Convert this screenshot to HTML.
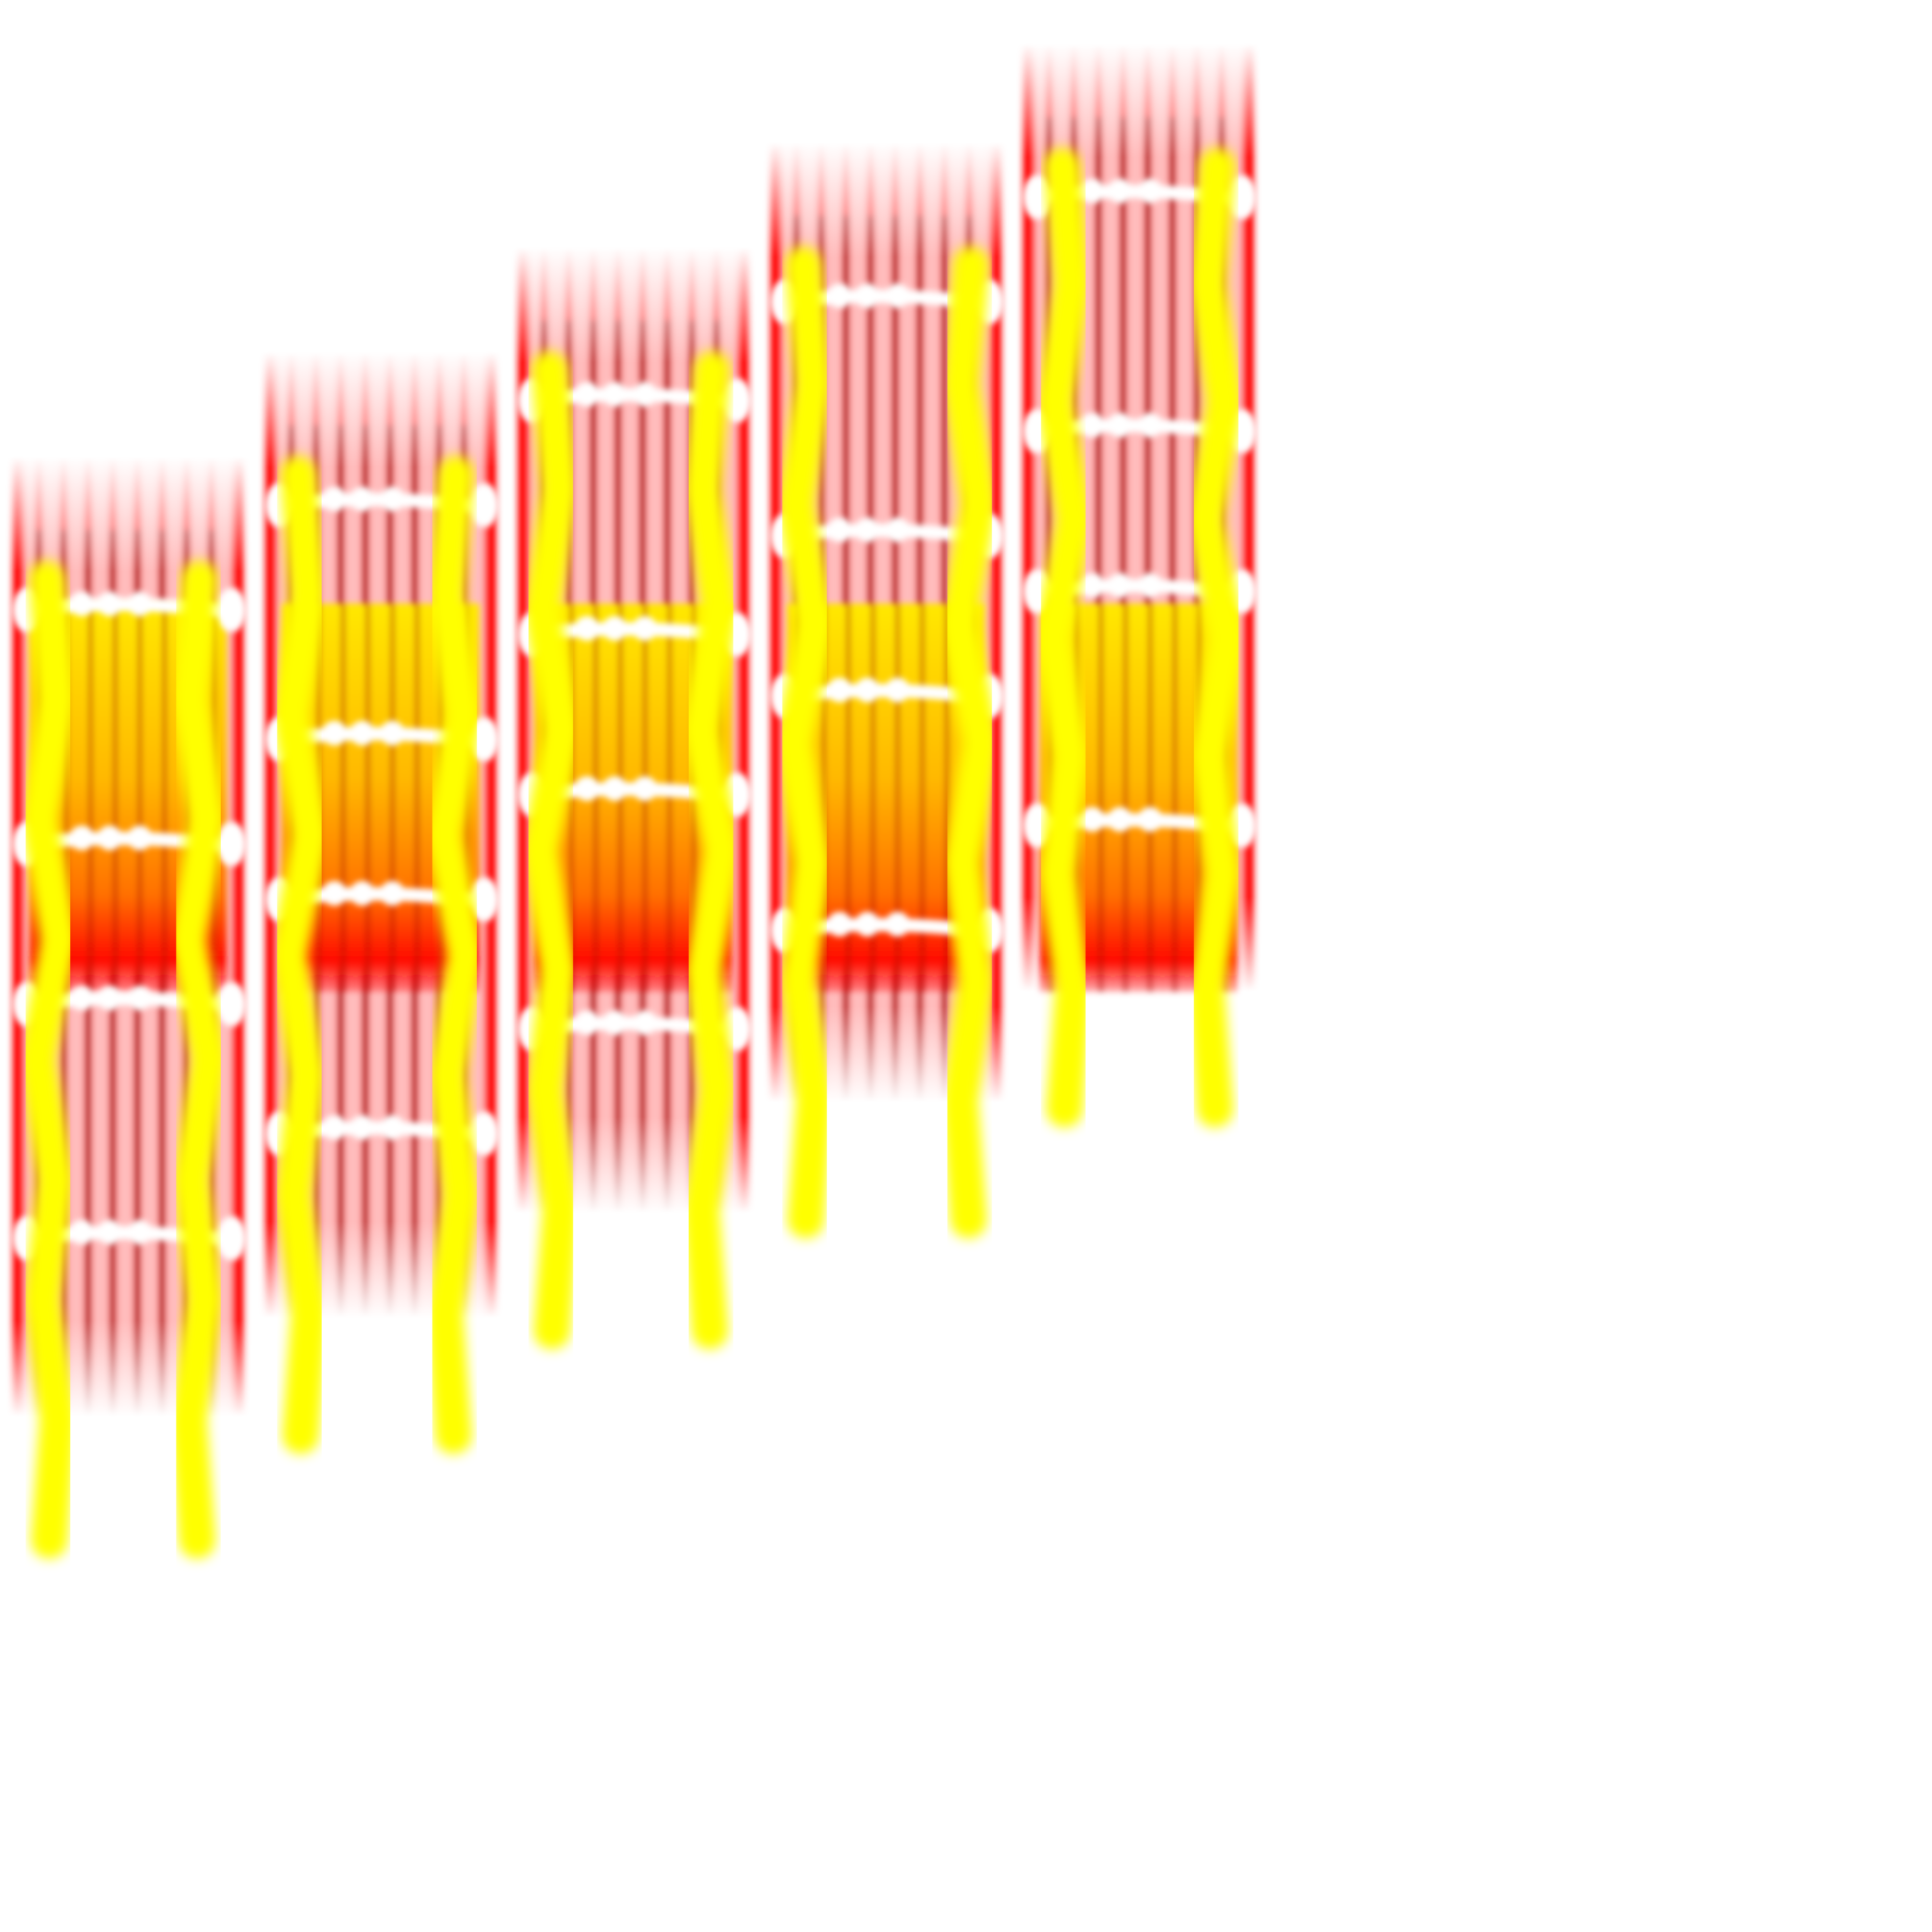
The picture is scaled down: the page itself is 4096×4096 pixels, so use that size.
<!DOCTYPE html>
<html><head><meta charset="utf-8"><style>
html,body{margin:0;padding:0;background:#fff;width:4096px;height:4096px;overflow:hidden}
svg{display:block}
</style></head><body>
<svg id="chart" width="4096" height="4096" viewBox="0 0 1568 1568" xmlns="http://www.w3.org/2000/svg">
<defs>
<filter id="b2" x="-20%" y="-20%" width="140%" height="140%"><feGaussianBlur stdDeviation="2.5"/></filter>
<filter id="b4" x="-50%" y="-20%" width="200%" height="140%"><feGaussianBlur stdDeviation="5"/></filter>
<linearGradient id="band" x1="0" y1="0" x2="0" y2="1">
<stop offset="0" stop-color="#ffe800"/><stop offset="0.45" stop-color="#ffb800"/><stop offset="0.75" stop-color="#ff7000"/><stop offset="0.92" stop-color="#ff0a00"/><stop offset="1" stop-color="#ff0a00" stop-opacity="0.3"/>
</linearGradient>
<linearGradient id="fadeTop" x1="0" y1="0" x2="0" y2="1">
<stop offset="0" stop-color="#fff" stop-opacity="0"/><stop offset="0.12" stop-color="#fff" stop-opacity="1"/><stop offset="0.9" stop-color="#fff" stop-opacity="1"/><stop offset="1" stop-color="#fff" stop-opacity="0"/>
</linearGradient>
</defs>
<g id="layer"></g>
</svg>
<script>
const ladderX = [10, 215, 420, 625, 830];
const ladderTop = [370, 285, 200, 115, 35];
const streakBottom = [1150, 1070, 985, 895, 805];
const firstRung = [495, 410, 325, 245, 160];
const rungGaps = [0, 190, 320, 510];
const railLeft = [38, 242, 446, 652, 862];
const railRight = [162, 370, 578, 788, 988];
const railBottom = [1250, 1165, 1080, 990, 900];
const wobble = [0, 8, -6, 10, -8, 7, -4, 9, -6];
const bandTop = 490, bandBottom = 805, ladderW = 188;

const NS = 'http://www.w3.org/2000/svg';
const layer = document.getElementById('layer');
function mk(tag, attrs, parent){ const e=document.createElementNS(NS,tag); for(const k in attrs) e.setAttribute(k,attrs[k]); (parent||layer).appendChild(e); return e; }

ladderX.forEach((x0, i) => {
  const g = mk('g', {});
  
  
  const top = ladderTop[i], bot = streakBottom[i];
  const mid = mk('mask', {id:'m'+i, maskUnits:'userSpaceOnUse', x:x0-20, y:top, width:ladderW+40, height:bot-top}, g);
  mk('rect', {x:x0-20, y:top, width:ladderW+40, height:bot-top, fill:'url(#fadeTop)'}, mid);
  const bg = mk('g', {mask:'url(#m'+i+')', filter:'url(#b2)'}, g);
  mk('rect', {x:x0, y:top, width:ladderW, height:bot-top, fill:'#ffbcbc'}, bg);
  mk('rect', {x:x0, y:top, width:10, height:bot-top, fill:'#ff1010'}, bg);
  mk('rect', {x:x0+ladderW-10, y:top, width:10, height:bot-top, fill:'#ff1010'}, bg);
  for (let s = 18; s < ladderW-10; s += 20) {
    mk('rect', {x:x0+s, y:top, width:7, height:bot-top, fill:'#ff2020', opacity:0.7}, bg);
    mk('rect', {x:x0+s+2, y:top+60, width:3, height:bot-top-60, fill:'#6a0000', opacity:0.9}, bg);
  }
  const band = mk('g', {filter:'url(#b2)'}, g);
  const bb = Math.min(bandBottom, bot+5);
  mk('rect', {x:x0+14, y:bandTop, width:ladderW-28, height:bb-bandTop, fill:'url(#band)'}, band);
  for (let s = 20; s < ladderW-16; s += 20) {
    mk('rect', {x:x0+s+2, y:bandTop, width:3, height:bb-bandTop, fill:'#a00000', opacity:0.55}, band);
  }
  rungGaps.forEach((gp, r) => {
    const y = firstRung[i] + gp;
    const rg = mk('g', {filter:'url(#b2)'}, g);
    
    
    mk('path', {d:`M${x0+8} ${y} Q ${x0+ladderW/2} ${y-10} ${x0+ladderW-8} ${y+2}`, stroke:'#fff', 'stroke-width':11, fill:'none', 'stroke-linecap':'round'}, rg);
    mk('ellipse', {cx:x0+12, cy:y, rx:12, ry:18, fill:'#fff'}, rg);
    mk('ellipse', {cx:x0+ladderW-10, cy:y, rx:12, ry:18, fill:'#fff'}, rg);
    [0.3,0.42,0.55].forEach(f => mk('ellipse', {cx:x0+ladderW*f, cy:y-5, rx:10, ry:10, fill:'#fff'}, rg));
  });
  [railLeft[i], railRight[i]].forEach((rx, k) => {
    const y0 = top + 100, y1 = railBottom[i];
    const n = wobble.length;
    let d = '';
    for (let j = 0; j < n; j++) {
      const y = y0 + (y1-y0)*j/(n-1);
      const xx = rx + wobble[j]*(k?-1:1) + (j===n-1 ? (k?-8:8) : 0);
      d += (j? ' L':'M') + xx + ' ' + y;
    }
    const p = mk('path', {d, stroke:'#ffff00', 'stroke-width':30, fill:'none', 'stroke-linecap':'round', 'stroke-linejoin':'round', filter:'url(#b4)'}, g);
    
    
  });
});
</script>
</body></html>
